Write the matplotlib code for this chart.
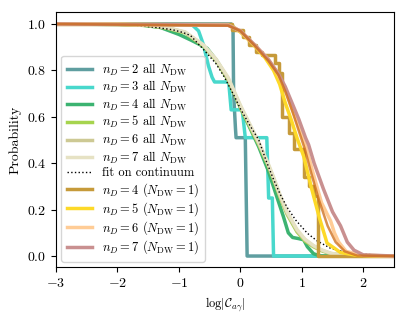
import matplotlib
matplotlib.use("Agg")
import matplotlib.pyplot as plt

plt.rcParams['font.family'] = 'serif'
plt.rcParams['font.serif'] = ['cmr10', 'DejaVu Serif']
plt.rcParams['mathtext.fontset'] = 'cm'
plt.rcParams['axes.formatter.use_mathtext'] = True
plt.rcParams['axes.unicode_minus'] = True

# ---- data ----
n2_x = [-3, -0.15, -0.12, -0.11, -0.08, -0.07, 0.08, 0.11, 2.5]
n2_p = [1.0, 1.0, 0.99, 0.70, 0.55, 0.51, 0.51, 0.0, 0.0]

n3_x = [-3, -0.78, -0.68, -0.6, -0.52, -0.46, -0.42, -0.19, -0.15, 0.03, 0.08, 0.43, 0.46, 0.52, 0.54, 2.5]
n3_p = [1.0, 0.995, 0.97, 0.91, 0.82, 0.77, 0.75, 0.75, 0.63, 0.63, 0.51, 0.51, 0.25, 0.25, 0.0, 0.0]

n4all_x = [-3, -2, -1.6, -1.3, -1.0, -0.8, -0.54, -0.38, -0.2, 0, 0.15, 0.3, 0.45, 0.6, 0.7, 0.78, 0.85, 0.95, 1.03, 1.09, 1.19, 1.3, 2.5]
n4all_p = [1, 0.999, 0.995, 0.985, 0.955, 0.93, 0.895, 0.84, 0.76, 0.64, 0.555, 0.47, 0.37, 0.25, 0.17, 0.10, 0.08, 0.075, 0.07, 0.04, 0.01, 0.0, 0.0]

band_x = [-3, -2, -1.5, -1.2, -0.9, -0.6, -0.4, -0.2, 0, 0.15, 0.3, 0.45, 0.54, 0.65, 0.76, 0.92, 1.05, 1.19, 1.33, 1.47, 1.65, 1.9, 2.5]
n5all_p = [1, 0.999, 0.993, 0.982, 0.962, 0.905, 0.845, 0.76, 0.64, 0.56, 0.48, 0.39, 0.33, 0.25, 0.18, 0.105, 0.065, 0.04, 0.022, 0.01, 0.004, 0.001, 0]
n6all_p = [1, 0.999, 0.994, 0.984, 0.964, 0.908, 0.848, 0.765, 0.645, 0.565, 0.485, 0.395, 0.335, 0.255, 0.185, 0.11, 0.07, 0.043, 0.024, 0.011, 0.004, 0.001, 0]
n7all_p = [1, 0.999, 0.995, 0.985, 0.966, 0.91, 0.85, 0.77, 0.65, 0.57, 0.49, 0.40, 0.34, 0.26, 0.19, 0.115, 0.073, 0.045, 0.026, 0.012, 0.005, 0.001, 0]

fit_x = [-3, -2.0, -1.75, -1.37, -1.1, -0.93, -0.81, -0.6, -0.4, -0.27, -0.1, 0.0, 0.15, 0.3, 0.42, 0.54, 0.65, 0.76, 0.9, 1.09, 1.25, 1.47, 1.7, 1.9, 2.2, 2.5]
fit_p = [1.0, 0.999, 0.996, 0.985, 0.975, 0.963, 0.95, 0.89, 0.83, 0.775, 0.69, 0.635, 0.565, 0.50, 0.41, 0.33, 0.265, 0.21, 0.155, 0.098, 0.065, 0.033, 0.018, 0.01, 0.005, 0.002]

d4_x = [-3, -0.14, 0.05, 0.14, 0.25, 0.36, 0.57, 0.63, 0.68, 0.79, 0.87, 1.03, 1.11, 1.19, 1.27, 2.5]
d4_p = [1.0, 0.972, 0.945, 0.91, 0.88, 0.865, 0.83, 0.79, 0.60, 0.53, 0.46, 0.34, 0.30, 0.26, 0.0, 0.0]

d5_x = [-3, -0.2, -0.1, 0.0, 0.12, 0.25, 0.4, 0.54, 0.64, 0.73, 0.83, 0.92, 1.03, 1.15, 1.28, 1.41, 1.63, 1.9, 2.5]
d5_p = [1.0, 0.995, 0.985, 0.965, 0.935, 0.90, 0.855, 0.80, 0.74, 0.66, 0.585, 0.51, 0.43, 0.30, 0.17, 0.056, 0.015, 0.003, 0.0]

d6_x = [-3, -0.2, 0, 0.25, 0.45, 0.6, 0.73, 0.85, 0.95, 1.06, 1.18, 1.32, 1.47, 1.53, 1.6, 1.72, 2.0, 2.5]
d6_p = [1, 0.995, 0.97, 0.905, 0.85, 0.79, 0.72, 0.63, 0.56, 0.48, 0.36, 0.23, 0.15, 0.10, 0.06, 0.02, 0.003, 0]

d7_x = [-3, -0.2, 0, 0.25, 0.46, 0.62, 0.73, 0.84, 0.95, 1.06, 1.11, 1.2, 1.35, 1.5, 1.63, 1.74, 1.85, 2.0, 2.5]
d7_p = [1, 0.995, 0.97, 0.905, 0.845, 0.785, 0.73, 0.66, 0.59, 0.51, 0.48, 0.40, 0.29, 0.19, 0.13, 0.06, 0.025, 0.005, 0]

orange_x = [-3, -0.2, 0, 0.24, 0.46, 0.62, 0.73, 0.85, 0.95, 1.05, 1.15, 1.28, 1.42, 1.55, 1.7, 1.9, 2.5]
orange_p = [1, 0.993, 0.97, 0.905, 0.84, 0.78, 0.71, 0.62, 0.54, 0.46, 0.36, 0.24, 0.13, 0.06, 0.02, 0.002, 0]

fig = plt.figure(figsize=(4.07, 3.22), dpi=100)
ax = fig.add_axes([0.1376, 0.171, 0.8305, 0.792])

lw = 2.5
ax.plot(n2_x, n2_p, color='#5f9ea0', lw=lw, label=r'$n_D=2$ all $N_{\rm DW}$')
ax.plot(n3_x, n3_p, color='#48d8cc', lw=lw, label=r'$n_D=3$ all $N_{\rm DW}$')
ax.plot(n4all_x, n4all_p, color='#3cb371', lw=lw, label=r'$n_D=4$ all $N_{\rm DW}$')
ax.plot(band_x, n5all_p, color='#a6d44e', lw=lw, label=r'$n_D=5$ all $N_{\rm DW}$')
ax.plot(band_x, n6all_p, color='#cdc994', lw=lw, label=r'$n_D=6$ all $N_{\rm DW}$')
ax.plot(band_x, n7all_p, color='#e6e2c4', lw=lw, label=r'$n_D=7$ all $N_{\rm DW}$')
ax.plot(fit_x, fit_p, color='black', lw=1.0, ls=':', label='fit on continuum')
ax.plot(d4_x, d4_p, color='#c69a3a', lw=lw, drawstyle='steps-post', label=r'$n_D=4$ $(N_{\rm DW}=1)$')
ax.plot(d5_x, d5_p, color='#fdd928', lw=lw, label=r'$n_D=5$ $(N_{\rm DW}=1)$')
ax.plot(d6_x, d6_p, color='#ffcc96', lw=lw, label=r'$n_D=6$ $(N_{\rm DW}=1)$')
ax.plot(d7_x, d7_p, color='#c99090', lw=lw, label=r'$n_D=7$ $(N_{\rm DW}=1)$')
ax.plot(orange_x, orange_p, color='#cc6a14', lw=1.8, alpha=0.75)

ax.set_xlim(-3, 2.5)
ax.set_ylim(-0.047, 1.052)
ax.set_yticks([0.0, 0.2, 0.4, 0.6, 0.8, 1.0])
ax.set_xticks([-3, -2, -1, 0, 1, 2])
ax.tick_params(labelsize=10)
ax.set_xlabel(r'$\log|\mathcal{C}_{a\gamma}|$', fontsize=9)
ax.set_ylabel('Probability', fontsize=10)

leg = ax.legend(loc='lower left', fontsize=9, handlelength=2.0, labelspacing=0.12,
                borderaxespad=0.4, borderpad=0.45)

fig.savefig('out.png', dpi=100)
